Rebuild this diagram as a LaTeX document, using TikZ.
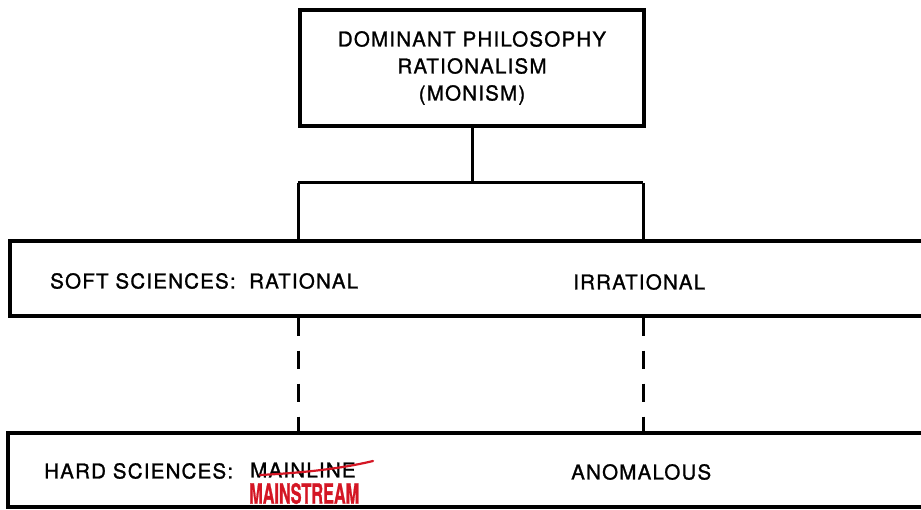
\documentclass[tikz,border=0pt]{standalone}
\usepackage{fontspec}
\setmainfont{TeX Gyre Heros}[LetterSpace=6,FakeBold=1.2]
\usepackage{graphicx}
\usetikzlibrary{positioning}
\definecolor{penred}{RGB}{212,22,36}

\begin{document}
\begin{tikzpicture}[x=1pt,y=-1pt,font=\fontsize{20.5}{27}\selectfont,
  panel/.style={draw,rectangle,line width=3.4pt,inner sep=0pt},
  boxtext/.style={anchor=west,inner sep=0pt},
  link/.style={line width=3pt}]
\useasboundingbox (0,0) rectangle (921,510);
\clip (0,0) rectangle (921,510);
% boxes
\node[panel,minimum width=344pt,minimum height=116pt,align=center] (top) at (472,68)
  {DOMINANT PHILOSOPHY\\RATIONALISM\\(MONISM)};
\node[panel,minimum width=950pt,minimum height=75pt] (soft) at (485,278.5) {};
\node[panel,minimum width=952pt,minimum height=74pt] (hard) at (484,470) {};
% texts
\node[boxtext] (softlbl) at (50,281) {SOFT SCIENCES:};
\node[boxtext] (rational) at (249,281) {RATIONAL};
\node[boxtext] (irrational) at (573,282) {IRRATIONAL};
\node[boxtext] (hardlbl) at (44,471) {HARD SCIENCES:};
\node[boxtext] (mainline) at (250,470) {MAINLINE};
\node[boxtext] (anomalous) at (571,472) {ANOMALOUS};
% fork
\coordinate (forkl) at (298,183);
\coordinate (forkr) at (643,183);
\draw[link] (top.south) -- (top.south |- forkl);
\draw[link] (forkl) -- (forkr);
\draw[link] (forkl) -- (forkl |- soft.north);
\draw[link] (forkr) -- (forkr |- soft.north);
\draw[link,dash pattern=on 18pt off 15pt] (forkl |- soft.south) -- (forkl |- hard.north);
\draw[link,dash pattern=on 18pt off 15pt] (forkr |- soft.south) -- (forkr |- hard.north);
% red pen correction
\draw[penred,line width=2.2pt,line cap=round] (260,475) .. controls (300,473) and (340,469) .. (373,461);
\node[boxtext,text=penred] (mainstream) at (249,493.5)
  {\scalebox{0.58}[1]{\addfontfeature{LetterSpace=0}\bfseries\fontsize{28}{28}\selectfont MAINSTREAM}};
\end{tikzpicture}
\end{document}
